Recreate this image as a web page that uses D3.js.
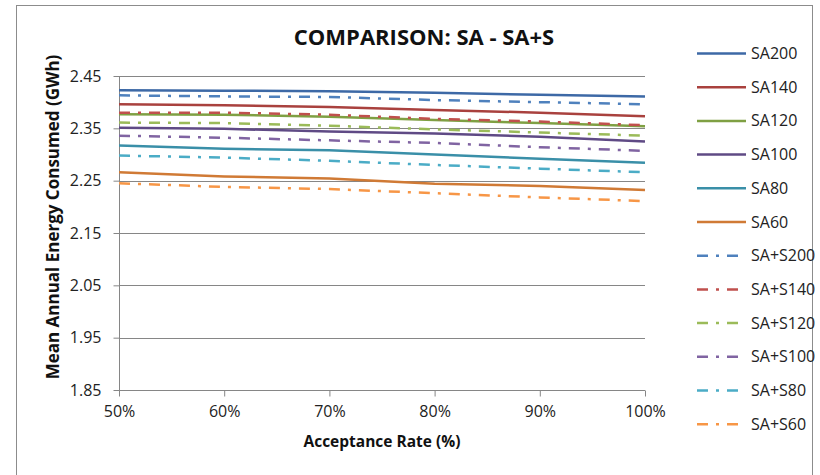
<!DOCTYPE html>
<html>
<head>
<meta charset="utf-8">
<script src="https://cdn.jsdelivr.net/npm/d3@7"></script>
<style>
  html, body { margin: 0; padding: 0; background: #fff; }
  svg { display: block; font-family: "Open Sans", "Noto Sans", sans-serif; }
</style>
</head>
<body>
<svg id="chart" width="820" height="475"></svg>
<script>
// Acceptance rate (%) on the x axis
const rates = [50, 60, 70, 80, 90, 100];
const yTicks = [1.85, 1.95, 2.05, 2.15, 2.25, 2.35, 2.45];

// Mean annual energy consumed (GWh), SA runs
const sa200 = [2.423, 2.422, 2.421, 2.418, 2.414, 2.411];
const sa140 = [2.396, 2.394, 2.391, 2.385, 2.380, 2.373];
const sa120 = [2.377, 2.376, 2.372, 2.366, 2.360, 2.354];
const sa100 = [2.351, 2.349, 2.344, 2.340, 2.334, 2.325];
const sa80  = [2.317, 2.311, 2.308, 2.300, 2.292, 2.284];
const sa60  = [2.266, 2.258, 2.254, 2.244, 2.240, 2.232];

// Mean annual energy consumed (GWh), SA+S runs
const sas200 = [2.413, 2.411, 2.410, 2.404, 2.400, 2.396];
const sas140 = [2.380, 2.380, 2.376, 2.368, 2.363, 2.356];
const sas120 = [2.361, 2.360, 2.355, 2.348, 2.342, 2.336];
const sas100 = [2.336, 2.332, 2.327, 2.322, 2.314, 2.307];
const sas80  = [2.298, 2.294, 2.288, 2.280, 2.273, 2.266];
const sas60  = [2.245, 2.238, 2.234, 2.226, 2.218, 2.211];

const seriesNames = ["SA200", "SA140", "SA120", "SA100", "SA80", "SA60",
                     "SA+S200", "SA+S140", "SA+S120", "SA+S100", "SA+S80", "SA+S60"];
const seriesValues = [sa200, sa140, sa120, sa100, sa80, sa60,
                      sas200, sas140, sas120, sas100, sas80, sas60];
const seriesColors = ["#3D69A6", "#A9413E", "#7FA043", "#5F4A85", "#3A8FA8", "#D07A35",
                      "#4F81BD", "#C0504D", "#9BBB59", "#8064A2", "#4BACC6", "#F79646"];
const seriesDashed = [false, false, false, false, false, false,
                      true, true, true, true, true, true];

const svg = d3.select("#chart");
const plot = { left: 119, right: 645, top: 76, bottom: 390 };
const axisColor = "#868686";
const textFont = "'Open Sans', sans-serif";

// chart frame
svg.append("rect")
  .attr("x", 16.5).attr("y", 5.5)
  .attr("width", 796).attr("height", 480)
  .attr("fill", "#fff").attr("stroke", "#8c8c8c").attr("stroke-width", 1);

const x = d3.scaleLinear().domain([50, 100]).range([plot.left, plot.right]);
const y = d3.scaleLinear().domain([1.85, 2.45]).range([plot.bottom, plot.top]);

// horizontal gridlines
svg.append("g")
  .selectAll("line")
  .data(yTicks)
  .join("line")
  .attr("x1", plot.left).attr("x2", plot.right)
  .attr("y1", d => Math.round(y(d)) + 0.5).attr("y2", d => Math.round(y(d)) + 0.5)
  .attr("stroke", axisColor).attr("stroke-width", 1);

// y axis
const yAxis = d3.axisLeft(y).tickValues(yTicks).tickFormat(d3.format(".2f"))
  .tickSize(6).tickPadding(12);
const gy = svg.append("g")
  .attr("transform", `translate(${plot.left + 0.5},0)`)
  .call(yAxis);
gy.selectAll("line").attr("stroke", axisColor);
gy.select(".domain").attr("stroke", axisColor).attr("d", `M0,${plot.top}V${plot.bottom}`);
gy.selectAll("text").attr("font-size", 16).attr("fill", "#222")
  .attr("font-family", textFont);

// x axis
const xAxis = d3.axisBottom(x).tickValues(rates).tickFormat(d => d + "%")
  .tickSize(6).tickPadding(9);
const gx = svg.append("g")
  .attr("transform", `translate(0,${plot.bottom + 0.5})`)
  .call(xAxis);
gx.selectAll("line").attr("stroke", axisColor);
gx.select(".domain").attr("stroke", axisColor).attr("d", `M${plot.left},0H${plot.right}`);
gx.selectAll("text").attr("font-size", 16).attr("fill", "#222")
  .attr("font-family", textFont);

// series lines
const line = d3.line().x((d, i) => x(rates[i])).y(d => y(d));
svg.append("g")
  .selectAll("path")
  .data(seriesValues)
  .join("path")
  .attr("d", d => line(d))
  .attr("fill", "none")
  .attr("stroke", (d, i) => seriesColors[i])
  .attr("stroke-width", 2.5)
  .attr("stroke-dasharray", (d, i) => seriesDashed[i] ? "11,8,3,8" : null);

// title
svg.append("text")
  .attr("x", 424).attr("y", 45)
  .attr("text-anchor", "middle")
  .attr("font-size", 22).attr("font-weight", "bold").attr("fill", "#111")
  .text("COMPARISON: SA - SA+S");

// axis titles
svg.append("text")
  .attr("x", 382).attr("y", 447)
  .attr("text-anchor", "middle")
  .attr("font-size", 15.5).attr("font-weight", "bold").attr("fill", "#111")
  .text("Acceptance Rate (%)");

svg.append("text")
  .attr("transform", "translate(59,217) rotate(-90)")
  .attr("text-anchor", "middle")
  .attr("font-size", 17).attr("font-weight", "bold").attr("fill", "#111")
  .text("Mean Annual Energy Consumed (GWh)");

// legend
const legend = svg.append("g")
  .selectAll("g")
  .data(seriesNames)
  .join("g")
  .attr("transform", (d, i) => `translate(697,${53.5 + i * 33.7})`);
legend.append("line")
  .attr("x1", 0).attr("x2", 49)
  .attr("stroke", (d, i) => seriesColors[i])
  .attr("stroke-width", 2.5)
  .attr("stroke-dasharray", (d, i) => seriesDashed[i] ? "11,8,3,8" : null);
legend.append("text")
  .attr("x", 54).attr("y", 5.5)
  .attr("font-size", 16).attr("fill", "#222")
  .text(d => d);
</script>
</body>
</html>
